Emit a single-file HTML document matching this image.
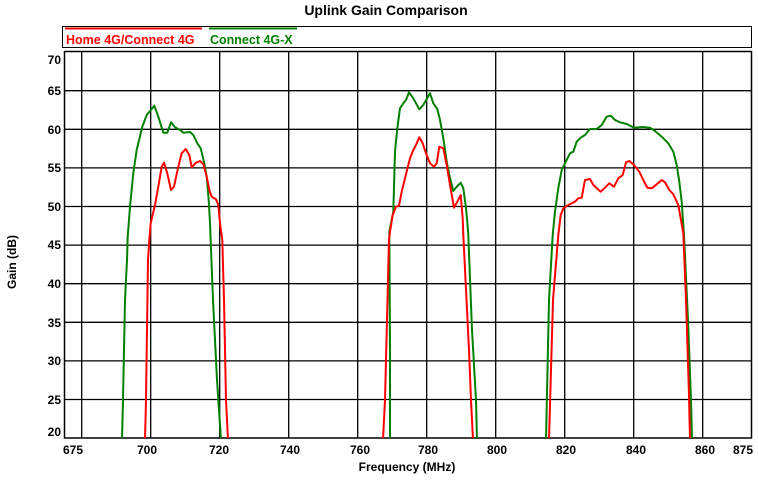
<!DOCTYPE html>
<html><head><meta charset="utf-8"><style>
html,body{margin:0;padding:0;background:#fff;}
svg text{font-family:"Liberation Sans",Arial,sans-serif;}
</style></head><body>
<svg width="758" height="476" xmlns="http://www.w3.org/2000/svg">
<text x="386" y="15" font-size="14" font-weight="bold" text-anchor="middle">Uplink Gain Comparison</text>
<rect x="62.5" y="26.5" width="689" height="21" fill="none" stroke="#000" stroke-width="1"/>
<line x1="65" y1="28.5" x2="202" y2="28.5" stroke="#f00" stroke-width="2"/>
<text x="66" y="44" font-size="12.5" font-weight="bold" fill="#f00">Home 4G/Connect 4G</text>
<line x1="209" y1="28.5" x2="297" y2="28.5" stroke="#008000" stroke-width="2"/>
<text x="210" y="44" font-size="12.5" font-weight="bold" fill="#008000">Connect 4G-X</text>
<g stroke="#000" stroke-width="1.3">
<line x1="65" y1="90.7" x2="752" y2="90.7"/><line x1="65" y1="129.3" x2="752" y2="129.3"/>
<line x1="65" y1="167.9" x2="752" y2="167.9"/><line x1="65" y1="206.5" x2="752" y2="206.5"/>
<line x1="65" y1="245.1" x2="752" y2="245.1"/><line x1="65" y1="283.7" x2="752" y2="283.7"/>
<line x1="65" y1="322.3" x2="752" y2="322.3"/><line x1="65" y1="360.9" x2="752" y2="360.9"/>
<line x1="65" y1="399.5" x2="752" y2="399.5"/>
<line x1="81.7" y1="52" x2="81.7" y2="438"/><line x1="150.7" y1="52" x2="150.7" y2="438"/>
<line x1="219.7" y1="52" x2="219.7" y2="438"/><line x1="288.7" y1="52" x2="288.7" y2="438"/>
<line x1="357.7" y1="52" x2="357.7" y2="438"/><line x1="426.7" y1="52" x2="426.7" y2="438"/>
<line x1="495.7" y1="52" x2="495.7" y2="438"/><line x1="564.7" y1="52" x2="564.7" y2="438"/>
<line x1="633.7" y1="52" x2="633.7" y2="438"/><line x1="702.7" y1="52" x2="702.7" y2="438"/>
</g>
<rect x="64.5" y="51.5" width="687" height="386.5" fill="none" stroke="#000" stroke-width="1.5"/>
<g font-size="12" font-weight="bold" text-anchor="end">
<text x="61" y="64">70</text><text x="61" y="95">65</text><text x="61" y="134">60</text>
<text x="61" y="172">55</text><text x="61" y="211">50</text><text x="61" y="249">45</text>
<text x="61" y="288">40</text><text x="61" y="327">35</text><text x="61" y="365">30</text>
<text x="61" y="404">25</text><text x="61" y="436">20</text>
</g>
<g font-size="12" font-weight="bold" text-anchor="middle">
<text x="73" y="454">675</text><text x="147" y="454">700</text><text x="219" y="454">720</text>
<text x="290" y="454">740</text><text x="360" y="454">760</text><text x="428" y="454">780</text>
<text x="497" y="454">800</text><text x="566" y="454">820</text><text x="636" y="454">840</text>
<text x="705" y="454">860</text><text x="743" y="454">875</text>
</g>
<text x="407" y="471" font-size="12" font-weight="bold" text-anchor="middle">Frequency  (MHz)</text>
<text transform="translate(16,262) rotate(-90)" font-size="12" font-weight="bold" text-anchor="middle">Gain  (dB)</text>
<clipPath id="c"><rect x="65" y="52" width="686" height="386"/></clipPath>
<g clip-path="url(#c)" fill="none" stroke-width="2" stroke-linejoin="round">
<polyline stroke="#008000" points="122,440 123,400 125,300 127,260 127.7,236.7 130,206.7 133.3,173 136.7,150 142.3,126.7 146.7,115 154.3,105.7 158.3,116.7 163.3,132.7 167.3,132.7 171,122.3 175,127.3 180,130 183.3,132.7 190,132 193.3,135 197.3,143.3 200.7,148.3 204.3,163.3 206.7,176.7 208.7,200 210,223 213,300 217,380 221,440"/>
<polyline stroke="#f00" points="145,440 146,400 148,260 149.3,240 150.7,223.3 155,205 158.3,186.7 161.7,166.7 164,162.7 167.3,173.3 171,190 174,186.7 178.3,166.7 181.7,153.3 185.7,149 189.3,155 191.7,167.3 196,162.7 200,161 203.3,164 206.7,176.7 209.3,190 211.7,196.7 216,199.3 218.3,205 220,223.3 222.3,240 224,300 226,400 228,440"/>
<polyline stroke="#008000" points="390,440 390,350 389.3,231.7 393.3,211.7 395,151.7 397.3,128.3 400,108.3 403.3,103.3 406,100 409,92.3 413.3,98.3 419.3,109.3 423.3,105 430,93.3 433.3,103.3 437.3,109 440,120 443.3,138.3 446.7,161.7 449.3,175 453.3,191 456.7,186.7 460.7,182.7 463.3,188.3 466,208.3 467.3,221.7 468.3,235 472,330 476,400 477,440"/>
<polyline stroke="#f00" points="383,440 385,400 389,240 390,231.7 392.7,215 396,206.7 399,205.7 401.7,191.7 405,178.3 410,158.3 413.3,150 416,145 419.3,137.3 422.7,143.3 426,153.3 430,163.3 434,166.7 436.7,163.3 439.3,146.7 443.3,148.3 446.7,165 450,185 454,207.7 457.3,201.7 460.7,195 462.7,218.3 463.3,235 469,350 471,400 473,440"/>
<polyline stroke="#008000" points="546,440 549,300 552.7,235 555,211.7 558.3,188.3 561.7,170 565,163.3 570,153.3 573.3,151.7 576.7,141.7 580.7,137.7 585,135 590,129 596.7,129 601.7,125 606.7,116.7 610.7,115.7 615,120 620,122.3 626.7,124 634,127.7 643.3,127 650,127.7 655,131 661.7,136.7 668.3,143.3 673.3,151.7 676.7,165 679.3,181.7 681.7,201.7 684,235 688,320 691,400 692,440"/>
<polyline stroke="#f00" points="549,440 553,300 558.3,235 560.7,215 563.3,208.3 568.3,205 575,201.7 578.3,198.3 581.7,197.7 585,180 590,179 593.3,185 600.7,191.7 605,187.7 609.3,183.3 614,186.7 618.3,178.3 622.7,175 626,162.3 629.3,161 634,165 639.3,171.7 643.3,180 647.3,187.7 651.7,188.3 656.7,184.3 661.7,180 665,182.3 669.3,190 673.3,194.3 678.3,205 680.7,218.3 683.3,233.3 686,300 689,395 690,440"/>
</g>
</svg>
</body></html>
